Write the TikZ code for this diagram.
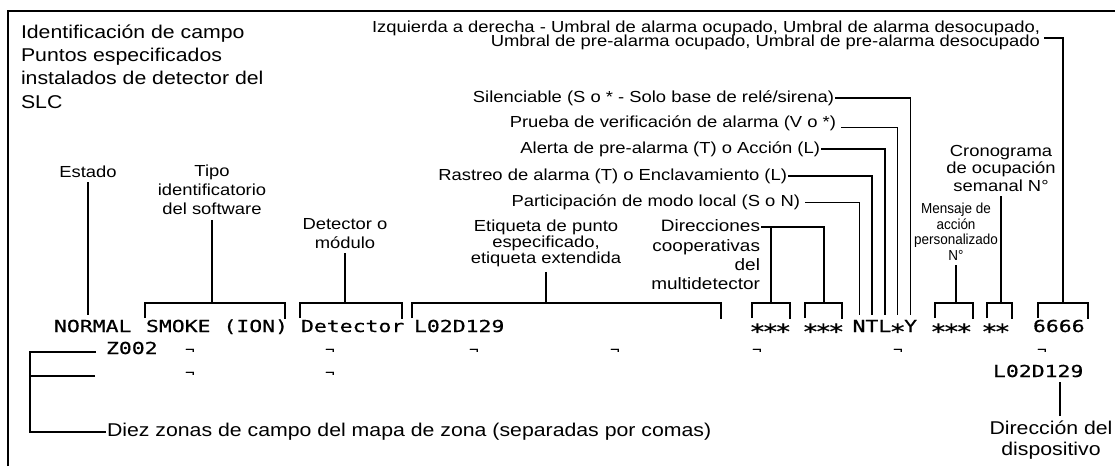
\documentclass[tikz,border=0pt]{standalone}
\usepackage{fontspec}
\setmainfont{Liberation Sans}[FakeStretch=1.15]
\newfontfamily\lcd{DejaVu Sans Mono}[FakeStretch=1.3, FakeBold=0.6]
\newfontfamily\estrecha{Liberation Sans}[FakeStretch=0.93]
\newcommand{\estr}{\makebox[12.9pt]{\raisebox{-7pt}{\fontsize{21}{21}\selectfont *}}}
% corchete sobre un campo de la pantalla: izquierda, derecha, nombre
\newcommand{\campo}[3]{%
  \draw[grueso] (#1,318) |- (#2,303) -- (#2,319);
  \coordinate (#3) at ({(#1+#2)/2},303);}

\begin{document}
\begin{tikzpicture}[x=1pt, y=-1pt,
    texto/.style={inner sep=0pt, outer xsep=1pt, outer ysep=5pt, align=center, font=\fontsize{16}{19}\selectfont},
    grande/.style={texto, font=\fontsize{18.5}{23.3}\selectfont},
    lcdtxt/.style={inner sep=0pt, outer xsep=1pt, outer ysep=5pt, font=\lcd\fontsize{16.5}{20}\selectfont},
    marca/.style={inner sep=0pt, anchor=base west, font=\lcd\fontsize{12}{12}\selectfont},
    grueso/.style={line width=2pt},
    fino/.style={line width=0.9pt}
  ]
  \useasboundingbox (0,0) rectangle (1115,466);

  % Marco
  \draw[line width=2.2pt] (8,466) -- (8,11) -- (1115,11);

  % Titulo y leyenda superior
  \node[grande, align=left, anchor=north west] (titulo) at (20,19.5) {Identificación de campo\\Puntos especificados\\instalados de detector del\\SLC};
  \node[texto, align=right, anchor=north east, font={\fontsize{16}{14}\selectfont\lineskiplimit=-20pt}] (umbral) at (1041,16) {Izquierda a derecha - Umbral de alarma ocupado, Umbral de alarma desocupado,\\Umbral de pre-alarma ocupado, Umbral de pre-alarma desocupado};

  % Linea 1 de la pantalla
  \node[lcdtxt, anchor=base west] (normal) at (53,332) {NORMAL};
  \node[lcdtxt, anchor=base west] (smoke) at (145,332) {SMOKE (ION)};
  \node[lcdtxt, anchor=base west] (tipodet) at (300,332) {Detector};
  \node[lcdtxt, anchor=base west] (etqpunto) at (413,332) {L02D129};
  \node[lcdtxt, anchor=base west] (coop1) at (750,332) {\estr\estr\estr};
  \node[lcdtxt, anchor=base west] (coop2) at (803,332) {\estr\estr\estr};
  \foreach \c/\n [count=\i from 0] in {N/cN, T/cT, L/cL, \estr/cE, Y/cY}
    \node[lcdtxt, anchor=base] (\n) at ({859+12.9*\i},332) {\c};
  \node[lcdtxt, anchor=base west] (msjnum) at (931,332) {\estr\estr\estr};
  \node[lcdtxt, anchor=base west] (crono) at (982,332) {\estr\estr};
  \node[lcdtxt, anchor=base west] (umbrales) at (1032,332) {6666};

  % Lineas 2 y 3 de la pantalla
  \node[lcdtxt, anchor=base west] (zona) at (105,354) {Z002};
  \foreach \x [count=\i] in {185,325,469,610,752,893,1037}
    \node[marca] (m2\i) at (\x,354) {¬};
  \foreach \x [count=\i] in {185,325}
    \node[marca] (m3\i) at (\x,377) {¬};
  \node[lcdtxt, anchor=base west] (direc) at (992,377) {L02D129};

  % Etiquetas
  \node[texto, anchor=base] (estado) at (88,177) {Estado};
  \node[texto, anchor=north] (tiposw) at (212,160) {Tipo\\identificatorio\\del software};
  \node[texto, anchor=north] (detmod) at (345,213) {Detector o\\módulo};
  \node[texto, anchor=north, font=\fontsize{16}{16}\selectfont] (etiq) at (546,215) {Etiqueta de punto\\especificado,\\etiqueta extendida};
  \node[texto, anchor=north east, align=right, font=\fontsize{16.5}{19.3}\selectfont] (dircoop) at (761,215) {Direcciones\\cooperativas\\del\\multidetector};
  \node[texto, anchor=north, font=\fontsize{16}{17.5}\selectfont] (cronog) at (1001,140) {Cronograma\\de ocupación\\semanal N°};
  \node[texto, anchor=north, font=\estrecha\fontsize{14.5}{15.5}\selectfont] (mensaje) at (956,198) {Mensaje de\\acción\\personalizado\\N°};

  \node[texto, anchor=east] (silen) at (835,98) {Silenciable (S o * - Solo base de relé/sirena)};
  \node[texto, anchor=east] (prueba) at (837,123.5) {Prueba de verificación de alarma (V o *)};
  \node[texto, anchor=east] (alerta) at (821,149) {Alerta de pre-alarma (T) o Acción (L)};
  \node[texto, anchor=east] (rastreo) at (788,176) {Rastreo de alarma (T) o Enclavamiento (L)};
  \node[texto, anchor=east] (partic) at (801,202) {Participación de modo local (S o N)};

  \node[grande, anchor=west] (diez) at (106,432) {Diez zonas de campo del mapa de zona (separadas por comas)};
  \node[grande, anchor=north, font=\fontsize{18.5}{21}\selectfont] (disp) at (1051,416) {Dirección del\\dispositivo};

  % Corchetes sobre los campos
  \campo{145}{285}{bSmoke}
  \campo{300}{402}{bDet}
  \campo{412}{721}{bEtiq}
  \campo{752}{790}{bC1}
  \campo{805}{842}{bC2}
  \campo{935}{973}{bMsj}
  \campo{987}{1012}{bCro}
  \campo{1038}{1088}{bUmb}

  % Lineas de referencia
  \draw[grueso] (estado.south) -- (estado.south |- normal.north);
  \draw[grueso] (tiposw.south) -- (tiposw.south |- bSmoke);
  \draw[grueso] (detmod.south) -- (detmod.south |- bDet);
  \draw[grueso] (etiq.south) -- (etiq.south |- bEtiq);
  \coordinate (dirR) at ([yshift=-12pt]dircoop.north east);
  \draw[grueso] (dirR) -| (bC2);
  \draw[grueso] (dirR -| bC1) -- (bC1);

  \draw[grueso] (silen.east) -- (silen.east -| cY.north);
  \draw[fino] (silen.east -| cY.north) -- (cY.north);
  \draw[fino] ([xshift=4pt]prueba.base east) -| (cE.north |- cN.north);
  \draw[grueso] (alerta.east) -| (cL.north);
  \draw[grueso] (rastreo.east) -| (cT.north);
  \draw[fino] ([xshift=4pt]partic.east) -| (cN.north);

  \draw[grueso] (mensaje.south) -- (mensaje.south |- bMsj);
  \draw[grueso] (cronog.south) -- (cronog.south |- bCro);
  \draw[grueso] ([shift={(3pt,-3pt)}]umbral.east) -| (bUmb);

  \draw[grueso] ([shift={(-9pt,-4pt)}]zona.west) -- ++(-66,0) |- (diez.west);
  \coordinate (zfin) at (95,376);
  \draw[grueso] (zfin) -- ++(-65,0);
  \draw[grueso] ([xshift=9pt]disp.north) -- ([xshift=9pt]disp.north |- direc.south);
\end{tikzpicture}
\end{document}
